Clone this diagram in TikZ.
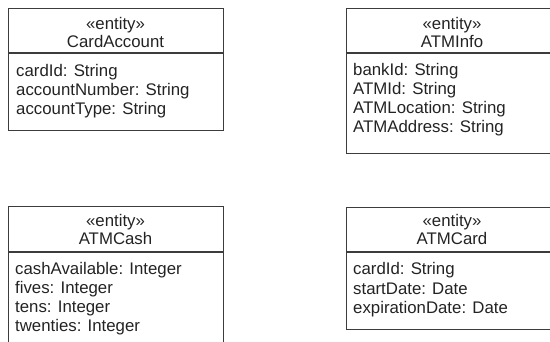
\documentclass[tikz,border=0pt]{standalone}
\usepackage{fontspec}
\setmainfont{Liberation Sans}
\definecolor{linec}{RGB}{60,60,60}
\definecolor{textc}{RGB}{35,35,35}
\begin{document}
\begin{tikzpicture}[x=1pt,y=-1pt,
  umlbox/.style={draw=linec, line width=1.3pt, rectangle, inner sep=0pt, anchor=north west},
  sepline/.style={draw=linec, line width=1.3pt},
  attr/.style={inner sep=0pt, anchor=base west, font=\fontsize{16.8}{19}\selectfont, text=textc},
  hdr/.style={inner sep=0pt, anchor=base, font=\fontsize{16.8}{19}\selectfont, text=textc}]
\useasboundingbox (0,0) rectangle (550,341);
\clip (0,0) rectangle (550,341);
% CardAccount
\node[umlbox, minimum width=215pt, minimum height=122pt] (b1) at (8,8) {};
\draw[sepline] (b1.north west |- 0,53) -- (b1.north east |- 0,53);
\node[hdr] (h1a) at (115.5,29.5) {«entity»};
\node[hdr] (h1b) at (115.5,47.5) {CardAccount};
\node[attr] (a1a) at (16,76.5) {cardId: String};
\node[attr] (a1b) at (16,95.5) {accountNumber: String};
\node[attr] (a1c) at (16,114.5) {accountType: String};
% ATMInfo
\node[umlbox, minimum width=212pt, minimum height=145pt] (b2) at (346,8) {};
\draw[sepline] (b2.north west |- 0,53) -- (b2.north east |- 0,53);
\node[hdr] (h2a) at (452,29.5) {«entity»};
\node[hdr] (h2b) at (452,47.5) {ATMInfo};
\node[attr] (a2a) at (353,75.5) {bankId: String};
\node[attr] (a2b) at (353,94.5) {ATMId: String};
\node[attr] (a2c) at (353,113.5) {ATMLocation: String};
\node[attr] (a2d) at (353,132.5) {ATMAddress: String};
% ATMCash
\node[umlbox, minimum width=215pt, minimum height=150pt] (b3) at (8,206) {};
\draw[sepline] (b3.north west |- 0,252) -- (b3.north east |- 0,252);
\node[hdr] (h3a) at (115.5,226.5) {«entity»};
\node[hdr] (h3b) at (115.5,244.5) {ATMCash};
\node[attr] (a3a) at (15,274.5) {cashAvailable: Integer};
\node[attr] (a3b) at (15,293.5) {fives: Integer};
\node[attr] (a3c) at (15,312.5) {tens: Integer};
\node[attr] (a3d) at (15,331.5) {twenties: Integer};
% ATMCard
\node[umlbox, minimum width=212pt, minimum height=122pt] (b4) at (346,207) {};
\draw[sepline] (b4.north west |- 0,252) -- (b4.north east |- 0,252);
\node[hdr] (h4a) at (452,226.5) {«entity»};
\node[hdr] (h4b) at (452,244.5) {ATMCard};
\node[attr] (a4a) at (353,274.5) {cardId: String};
\node[attr] (a4b) at (353,294) {startDate: Date};
\node[attr] (a4c) at (353,313) {expirationDate: Date};
\end{tikzpicture}
\end{document}
